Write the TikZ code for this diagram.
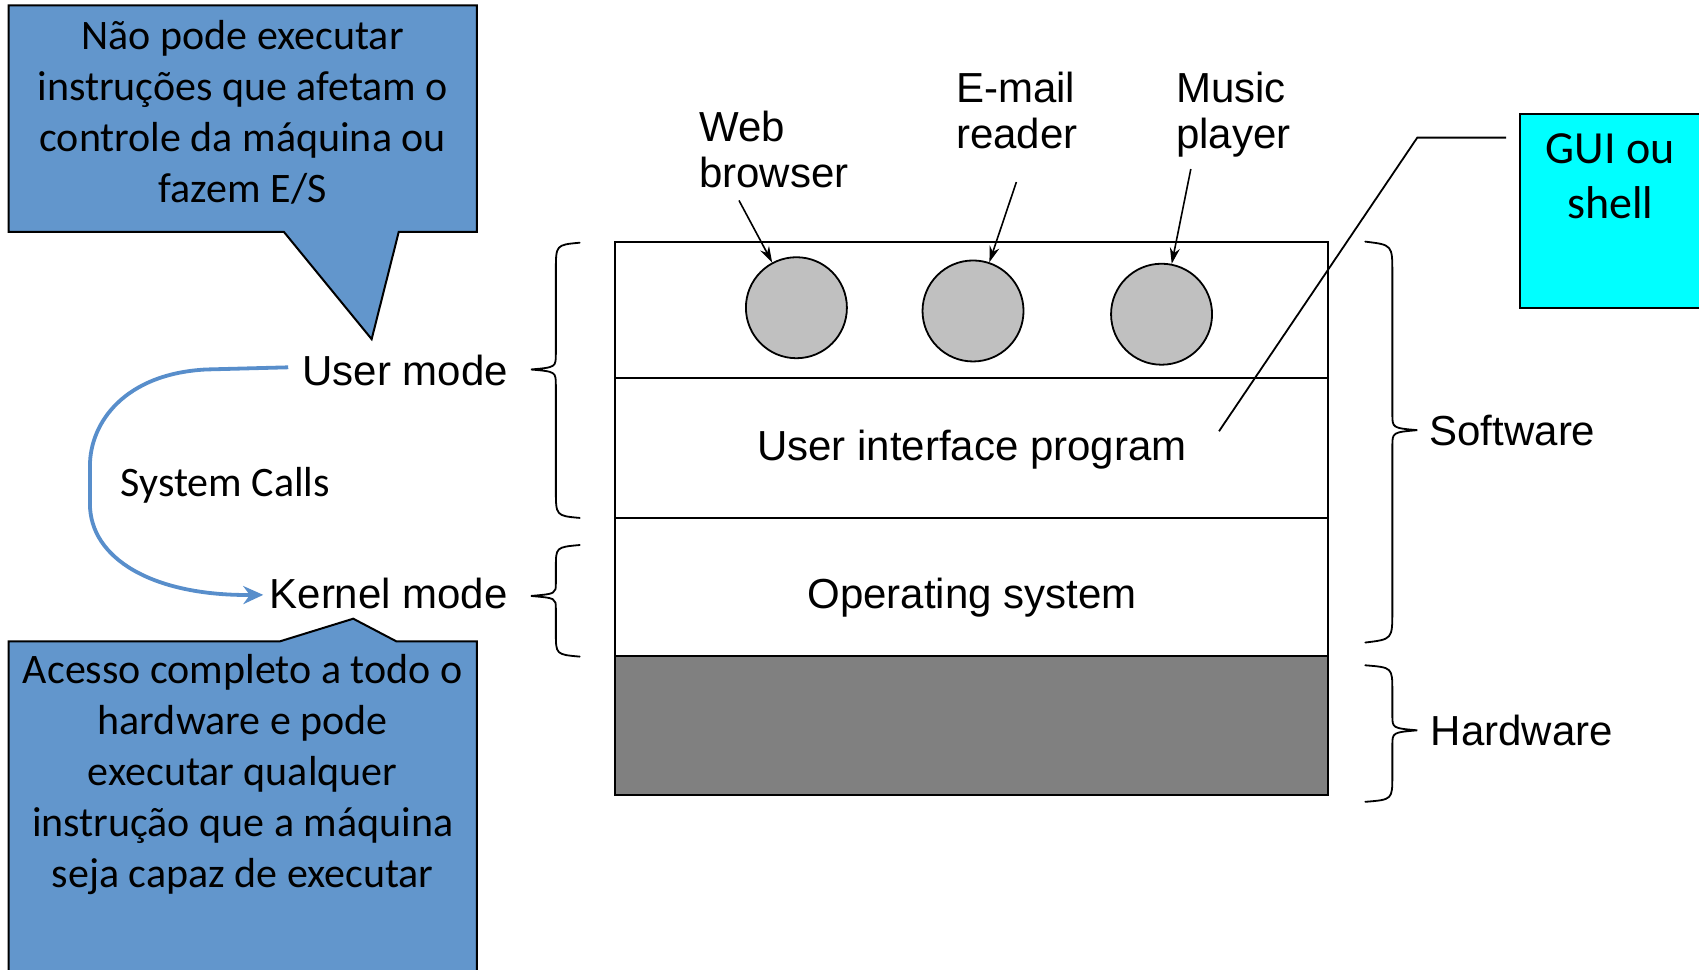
\documentclass[tikz,border=0pt]{standalone}
\usepackage{fontspec}
\setmainfont{Liberation Sans}
\newfontfamily\calfont{Carlito}
\usetikzlibrary{arrows.meta}
\definecolor{calloutblue}{RGB}{98,150,204}
\definecolor{callblue}{RGB}{88,142,203}
\definecolor{appgray}{RGB}{192,192,192}
\definecolor{hwgray}{RGB}{128,128,128}
\definecolor{guicyan}{RGB}{0,255,255}
\begin{document}
\begin{tikzpicture}[x=0.54175pt,y=-0.54175pt,
  lbl/.style={font=\fontsize{21}{23}\selectfont, inner sep=0pt},
  note/.style={font=\calfont\fontsize{21}{25.5}\selectfont, align=center, inner sep=0pt},
  app/.style={circle, draw, line width=0.9pt, fill=appgray, minimum size=50.5pt, inner sep=0pt},
  ptr/.style={-{Stealth[length=8pt,width=5pt]}, line width=0.8pt},
  bracepath/.style={line width=0.9pt, line cap=round},
  layer/.style={line width=1pt},
  balloon/.style={fill=calloutblue, draw, line width=1pt, line join=miter}]
\useasboundingbox (0,0) rectangle (1568,895);

% upper speech balloon
\draw[balloon] (8,5) -- (440,5) -- (440,214) -- (368,214) -- (343,313) -- (262,214) -- (8,214) -- cycle;
\node[note] (top) at (224,104) {Não pode executar\\instruções que afetam o\\controle da máquina ou\\fazem E/S};

% lower speech balloon
\draw[balloon] (8,920) -- (8,592) -- (258,592) -- (326,571) -- (366,592) -- (440,592) -- (440,920);
\node[note] (bot) at (224,715) {Acesso completo a todo o\\hardware e pode\\executar qualquer\\instrução que a máquina\\seja capaz de executar};

% layered stack
\fill[hwgray] (568,605) rectangle (1226,734);
\draw[layer] (568,223) rectangle (1226,734);
\draw[layer] (568,349) -- (1226,349);
\draw[layer] (568,478) -- (1226,478);
\draw[layer] (568,605) -- (1226,605);
\node[lbl, anchor=base] (uip) at (897,425) {User interface program};
\node[lbl, anchor=base] (os) at (897,562) {Operating system};

% application processes
\node[app] (c1) at (735,284) {};
\node[app] (c2) at (898,287) {};
\node[app] (c3) at (1072,290) {};

\node[lbl, align=left, anchor=north west] (wb) at (645,102) {Web\\browser};
\node[lbl, align=left, anchor=north west] (em) at (882,66) {E-mail\\reader};
\node[lbl, align=left, anchor=north west] (mp) at (1085,66) {Music\\player};
\coordinate (wbt) at (682,185);
\coordinate (emt) at (938,168);
\coordinate (mpt) at (1099,156);
\draw[ptr] (wbt) -- (c1);
\draw[ptr] (emt) -- (c2);
\draw[ptr] (mpt) -- (c3);

% GUI note
\draw[fill=guicyan, line width=1pt] (1403,105) rectangle (1600,284);
\node[note, font=\calfont\fontsize{23}{27.6}\selectfont] (gui) at (1486,163) {GUI ou\\shell};
\coordinate (guistart) at (1125,398);
\coordinate (guibend) at (1308,127);
\coordinate (guiend) at (1390,127);
\draw[line width=0.9pt] (guistart) -- (guibend) -- (guiend);

% modes
\node[lbl, anchor=base east] (um) at (469,356) {User mode};
\node[lbl, anchor=base east] (km) at (469,562) {Kernel mode};
\node[note] (sc) at (208,448) {System Calls};
\coordinate (scs) at (266,339);
\coordinate (sce) at (243,549);
\draw[callblue, line width=1.9pt, -{Stealth[length=10pt,width=9pt]}]
  (scs) -- (190,341) .. controls (115,345) and (83,390) .. (83,430)
  -- (83,465) .. controls (83,515) and (140,550) .. (sce);

% left braces
\draw[bracepath] (535,224) .. controls (513,226) .. (513,250) -- (513,326)
  .. controls (513,339) .. (490,341) .. controls (513,343) .. (513,356)
  -- (513,452) .. controls (513,476) .. (535,478);
\draw[bracepath] (535,503) .. controls (513,505) .. (513,524) -- (513,538)
  .. controls (513,548) .. (490,550) .. controls (513,552) .. (513,562)
  -- (513,584) .. controls (513,604) .. (535,606);

% right braces
\draw[bracepath] (1260,223) .. controls (1285,226) .. (1285,252) -- (1285,382)
  .. controls (1285,395) .. (1308,397) .. controls (1285,399) .. (1285,412)
  -- (1285,564) .. controls (1285,590) .. (1260,593);
\draw[bracepath] (1260,614) .. controls (1285,616) .. (1285,638) -- (1285,660)
  .. controls (1285,672) .. (1308,674) .. controls (1285,676) .. (1285,688)
  -- (1285,716) .. controls (1285,738) .. (1260,740);
\node[lbl, anchor=base west] (sw) at (1319,411) {Software};
\node[lbl, anchor=base west] (hw) at (1320,688) {Hardware};
\end{tikzpicture}
\end{document}
